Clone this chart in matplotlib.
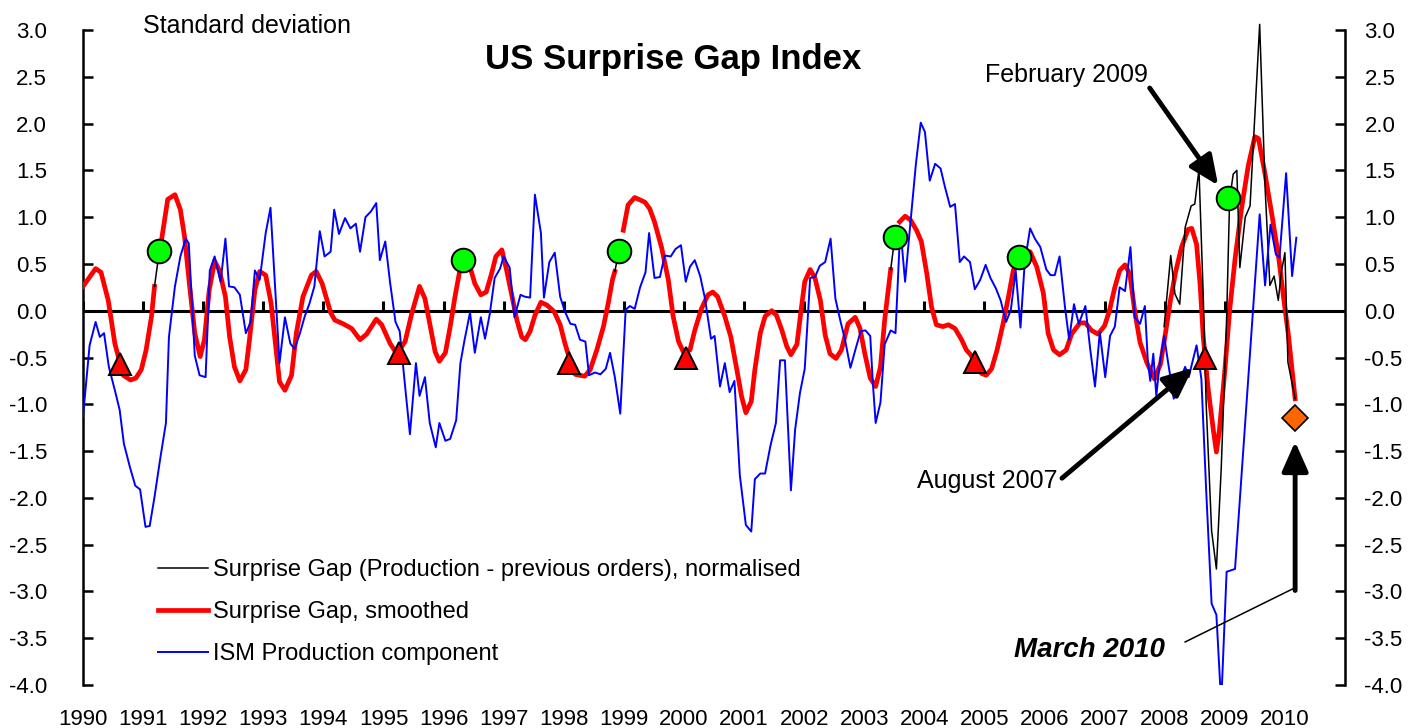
import numpy as np
import matplotlib
matplotlib.use('Agg')
import matplotlib.pyplot as plt
from matplotlib import font_manager
from matplotlib.ticker import FormatStrFormatter

# --- data (decimal years, standard deviations) ---
NAN = np.nan

ism_x = [1990.00, 1990.11, 1990.21, 1990.28, 1990.35, 1990.43, 1990.53, 1990.61, 1990.68, 1990.78,
         1990.87, 1990.95, 1991.04, 1991.11, 1991.19, 1991.29, 1991.38, 1991.43, 1991.53, 1991.62,
         1991.71, 1991.76, 1991.86, 1991.94, 1992.04, 1992.11, 1992.19, 1992.29, 1992.37, 1992.43,
         1992.52, 1992.61, 1992.71, 1992.79, 1992.86, 1992.94, 1993.04, 1993.12, 1993.27, 1993.36,
         1993.45, 1993.52, 1993.61, 1993.69, 1993.77, 1993.85, 1993.94, 1994.02, 1994.12, 1994.18,
         1994.26, 1994.36, 1994.45, 1994.54, 1994.61, 1994.70, 1994.79, 1994.88, 1994.94, 1995.03,
         1995.11, 1995.20, 1995.27, 1995.36, 1995.44, 1995.54, 1995.60, 1995.69, 1995.77, 1995.87,
         1995.93, 1996.03, 1996.11, 1996.21, 1996.28, 1996.35, 1996.44, 1996.52, 1996.62, 1996.69,
         1996.77, 1996.85, 1996.94, 1997.00, 1997.10, 1997.18, 1997.28, 1997.35, 1997.44, 1997.52,
         1997.62, 1997.67, 1997.76, 1997.85, 1997.94, 1998.02, 1998.11, 1998.19, 1998.27, 1998.36,
         1998.42, 1998.52, 1998.61, 1998.70, 1998.77, 1998.85, 1998.94, 1999.03, 1999.10, 1999.18,
         1999.27, 1999.36, 1999.42, 1999.51, 1999.60, 1999.68, 1999.78, 1999.86, 1999.95, 2000.03,
         2000.10, 2000.18, 2000.27, 2000.35, 2000.45, 2000.51, 2000.60, 2000.68, 2000.76, 2000.84,
         2000.93, 2001.03, 2001.12, 2001.18, 2001.27, 2001.35, 2001.44, 2001.53, 2001.60, 2001.68,
         2001.78, 2001.85, 2001.93, 2002.01, 2002.10, 2002.18, 2002.26, 2002.35, 2002.44, 2002.52,
         2002.60, 2002.68, 2002.77, 2002.86, 2002.94, 2003.02, 2003.10, 2003.14, 2003.19, 2003.27,
         2003.34, 2003.44, 2003.52, 2003.60, 2003.68, 2003.76, 2003.86, 2003.94, 2004.01, 2004.09,
         2004.18, 2004.27, 2004.34, 2004.43, 2004.51, 2004.59, 2004.66, 2004.76, 2004.84, 2004.93,
         2005.02, 2005.10, 2005.19, 2005.27, 2005.36, 2005.44, 2005.52, 2005.60, 2005.67, 2005.76,
         2005.84, 2005.93, 2006.03, 2006.10, 2006.17, 2006.25, 2006.34, 2006.41, 2006.49, 2006.57,
         2006.68, 2006.76, 2006.84, 2006.92, 2007.01, 2007.09, 2007.17, 2007.25, 2007.34, 2007.43,
         2007.50, 2007.59, 2007.67, 2007.72, 2007.76, 2007.81, 2007.86, 2007.91, 2007.99, 2008.06,
         2008.10, 2008.15, 2008.25, 2008.34, 2008.40, 2008.46, 2008.53, 2008.61, 2008.69, 2008.78,
         2008.86, 2008.94, 2009.03, 2009.17, 2009.58, 2009.67, 2009.76, 2009.85, 2009.91, 2010.02,
         2010.12, 2010.19]
ism_y = [-1.13, -0.37, -0.12, -0.28, -0.24, -0.60, -0.85, -1.06, -1.42, -1.67,
         -1.87, -1.91, -2.31, -2.30, -1.99, -1.56, -1.20, -0.28, 0.26, 0.58,
         0.77, 0.72, -0.48, -0.69, -0.71, 0.43, 0.58, 0.31, 0.77, 0.26,
         0.25, 0.17, -0.24, -0.12, 0.43, 0.33, 0.83, 1.10, -0.56, -0.07,
         -0.35, -0.41, -0.24, -0.06, 0.08, 0.26, 0.85, 0.58, 0.63, 1.08,
         0.82, 0.99, 0.88, 0.93, 0.63, 1.00, 1.06, 1.15, 0.54, 0.74,
         0.30, -0.12, -0.22, -0.81, -1.32, -0.56, -0.91, -0.71, -1.20, -1.46,
         -1.20, -1.39, -1.37, -1.17, -0.56, -0.31, -0.02, -0.45, -0.07, -0.30,
         -0.03, 0.35, 0.45, 0.58, 0.46, -0.07, 0.17, 0.15, 0.14, 1.24,
         0.83, 0.14, 0.52, 0.62, 0.15, -0.01, -0.14, -0.15, -0.31, -0.33,
         -0.69, -0.66, -0.68, -0.62, -0.45, -0.71, -1.10, 0.01, 0.05, 0.02,
         0.25, 0.41, 0.83, 0.35, 0.36, 0.59, 0.58, 0.66, 0.70, 0.31,
         0.47, 0.54, 0.37, 0.13, -0.30, -0.27, -0.81, -0.56, -0.87, -0.75,
         -1.76, -2.29, -2.36, -1.80, -1.74, -1.74, -1.44, -1.20, -0.53, -0.53,
         -1.92, -1.27, -0.88, -0.62, 0.35, 0.36, 0.48, 0.52, 0.77, 0.13,
         -0.10, -0.31, -0.61, -0.40, -0.22, -0.21, -0.27, -0.74, -1.20, -0.98,
         -0.36, -0.21, -0.24, 0.89, 0.31, 0.88, 1.57, 2.01, 1.91, 1.39,
         1.57, 1.52, 1.33, 1.11, 1.14, 0.52, 0.58, 0.52, 0.23, 0.33,
         0.49, 0.35, 0.24, 0.11, -0.12, 0.01, 0.43, -0.18, 0.51, 0.88,
         0.77, 0.68, 0.44, 0.38, 0.38, 0.58, 0.04, -0.31, 0.07, -0.14,
         0.05, -0.41, -0.81, -0.23, -0.71, -0.27, -0.17, 0.25, 0.21, 0.68,
         -0.07, -0.14, 0.05, -0.55, -0.75, -0.46, -0.91, -0.60, -0.27, -0.57,
         -0.73, -0.94, -0.75, -0.60, -0.71, -0.55, -0.37, -0.73, -1.92, -3.13,
         -3.25, -4.20, -2.79, -2.76, 1.03, 0.27, 0.92, 0.60, 0.57, 1.47,
         0.37, 0.78]

smooth_x = [1990.00, 1990.21, 1990.30, 1990.42, 1990.53, 1990.67, 1990.79, 1990.88, 1990.97, 1991.05,
            1991.14, 1991.19, 1991.23, 1991.31, 1991.41, 1991.53, 1991.62, 1991.69, 1991.77, 1991.86,
            1991.95, 1992.02, 1992.10, 1992.19, 1992.27, 1992.37, 1992.44, 1992.52, 1992.61, 1992.71,
            1992.77, 1992.86, 1992.94, 1993.04, 1993.13, 1993.19, 1993.27, 1993.36, 1993.47, 1993.55,
            1993.66, 1993.80, 1993.88, 1993.98, 1994.12, 1994.19, 1994.33, 1994.47, 1994.61, 1994.72,
            1994.88, 1994.97, 1995.11, 1995.22, 1995.36, 1995.47, 1995.60, 1995.69, 1995.78, 1995.86,
            1995.93, 1996.03, 1996.11, 1996.19, 1996.27, 1996.33, 1996.44, 1996.52, 1996.62, 1996.71,
            1996.80, 1996.87, 1996.97, 1997.05, 1997.14, 1997.22, 1997.30, 1997.36, 1997.44, 1997.52,
            1997.62, 1997.72, 1997.84, 1997.94, 1998.02, 1998.10, 1998.19, 1998.35, 1998.44, 1998.55,
            1998.66, 1998.74, 1998.81, 1998.85, 1998.92, 1998.99, 1999.07, 1999.18, 1999.35, 1999.43,
            1999.51, 1999.63, 1999.74, 1999.82, 1999.91, 1999.99, 2000.10, 2000.18, 2000.29, 2000.40,
            2000.48, 2000.56, 2000.68, 2000.78, 2000.88, 2000.96, 2001.03, 2001.12, 2001.18, 2001.27,
            2001.35, 2001.46, 2001.54, 2001.63, 2001.71, 2001.78, 2001.88, 2001.95, 2002.01, 2002.10,
            2002.18, 2002.27, 2002.35, 2002.43, 2002.53, 2002.62, 2002.73, 2002.85, 2002.93, 2003.01,
            2003.10, 2003.19, 2003.27, 2003.34, 2003.40, 2003.44, 2003.51, 2003.59, 2003.68, 2003.77,
            2003.87, 2003.95, 2004.04, 2004.12, 2004.20, 2004.31, 2004.40, 2004.51, 2004.62, 2004.70,
            2004.77, 2004.95, 2005.03, 2005.12, 2005.21, 2005.31, 2005.40, 2005.48, 2005.58, 2005.76,
            2005.87, 2005.98, 2006.06, 2006.15, 2006.25, 2006.36, 2006.45, 2006.59, 2006.68, 2006.78,
            2006.89, 2007.00, 2007.08, 2007.17, 2007.25, 2007.34, 2007.42, 2007.50, 2007.59, 2007.70,
            2007.83, 2007.93, 2008.01, 2008.09, 2008.18, 2008.28, 2008.39, 2008.45, 2008.53, 2008.59,
            2008.64, 2008.72, 2008.81, 2008.86, 2008.91, 2009.00, 2009.08, 2009.17, 2009.28, 2009.39,
            2009.50, 2009.56, 2009.67, 2009.79, 2009.90, 2009.97, 2010.06, 2010.17]
smooth_y = [0.26, 0.45, 0.41, 0.11, -0.35, -0.69, -0.74, -0.72, -0.63, -0.42,
            -0.06, 0.26, NAN, 0.77, 1.19, 1.24, 1.08, 0.79, 0.29, -0.24,
            -0.49, -0.31, 0.22, 0.53, 0.43, 0.15, -0.28, -0.60, -0.75, -0.63,
            -0.31, 0.22, 0.42, 0.38, 0.08, -0.28, -0.76, -0.85, -0.69, -0.24,
            0.15, 0.38, 0.42, 0.29, -0.02, -0.10, -0.14, -0.19, -0.31, -0.25,
            -0.09, -0.15, -0.35, -0.46, -0.33, -0.03, 0.26, 0.13, -0.17, -0.44,
            -0.54, -0.45, -0.17, 0.15, 0.43, 0.54, 0.47, 0.29, 0.17, 0.20,
            0.40, 0.58, 0.65, 0.43, 0.15, -0.10, -0.28, -0.31, -0.22, -0.05,
            0.09, 0.06, -0.01, -0.15, -0.35, -0.52, -0.68, -0.70, -0.63, -0.42,
            -0.17, 0.08, 0.33, 0.42, NAN, 0.86, 1.13, 1.21, 1.16, 1.09,
            0.95, 0.67, 0.33, -0.06, -0.33, -0.44, -0.42, -0.21, 0.02, 0.17,
            0.20, 0.15, -0.06, -0.28, -0.63, -0.92, -1.09, -0.97, -0.63, -0.24,
            -0.06, 0.00, -0.05, -0.21, -0.38, -0.47, -0.36, 0.01, 0.31, 0.44,
            0.35, 0.11, -0.26, -0.46, -0.51, -0.42, -0.14, -0.07, -0.19, -0.46,
            -0.72, -0.81, -0.60, -0.10, 0.22, 0.44, NAN, 0.95, 1.01, 0.97,
            0.86, 0.74, 0.40, 0.04, -0.15, -0.17, -0.15, -0.19, -0.31, -0.42,
            -0.47, -0.67, -0.69, -0.62, -0.42, -0.14, 0.15, 0.43, 0.57, 0.63,
            0.47, 0.19, -0.24, -0.42, -0.47, -0.42, -0.25, -0.13, -0.13, -0.21,
            -0.25, -0.16, 0.00, 0.25, 0.43, 0.49, 0.39, 0.00, -0.34, -0.55,
            -0.73, -0.57, -0.25, 0.09, 0.41, 0.68, 0.87, 0.88, 0.71, 0.27,
            -0.27, -0.82, -1.28, -1.51, -1.28, -0.64, 0.00, 0.55, 1.10, 1.55,
            1.86, 1.84, 1.46, 1.00, 0.55, 0.18, -0.27, -0.94]

gap_x = [2007.99, 2008.10, 2008.17, 2008.25, 2008.34, 2008.44, 2008.50, 2008.57, 2008.64, 2008.69,
         2008.78, 2008.86, 2008.94, 2009.03, 2009.08, 2009.14, 2009.20, 2009.25, 2009.34, 2009.42,
         2009.58, 2009.67, 2009.75, 2009.82, 2009.89, 2009.94, 2010.00, 2010.05, 2010.17]
gap_y = [-0.17, 0.59, 0.18, 0.07, 0.89, 1.12, 1.14, 1.51, 0.18, -1.00,
         -2.35, -2.76, -1.69, -0.09, 1.19, 1.46, 1.50, 0.46, 1.00, 1.12,
         3.06, 1.32, 0.27, 0.37, 0.11, 0.41, 0.62, -0.55, -0.94]

# turning-point signals
peak_x = [1991.27, 1996.33, 1998.92, 2003.51, 2005.58, 2009.06]
peak_y = [0.64, 0.54, 0.64, 0.79, 0.57, 1.20]
stub_x0 = [1991.19, 1998.85, 2003.44]   # thin black connectors red line -> circle
stub_y0 = [0.26, 0.42, 0.44]
stub_x1 = [1991.27, 1998.92, 2003.51]
stub_y1 = [0.64, 0.64, 0.79]
trough_x = [1990.62, 1995.25, 1998.09, 2000.03, 2004.84, 2008.67]
trough_y = [-0.57, -0.45, -0.56, -0.51, -0.55, -0.51]
latest_x = [2010.16]
latest_y = [-1.15]

years = list(range(1990, 2011))
year_labels = [str(y) for y in years]
yticks = [-4.0, -3.5, -3.0, -2.5, -2.0, -1.5, -1.0, -0.5, 0.0, 0.5, 1.0, 1.5, 2.0, 2.5, 3.0]

# --- fonts ---
names = {f.name for f in font_manager.fontManager.ttflist}
TICK_FONT = 'Liberation Sans Narrow' if 'Liberation Sans Narrow' in names else 'Liberation Sans'
TICK_SIZE = 18 if TICK_FONT == 'Liberation Sans Narrow' else 16
plt.rcParams['font.family'] = ['Liberation Sans', 'DejaVu Sans']
plt.rcParams['axes.unicode_minus'] = False

W, H = 1413, 728
fig = plt.figure(figsize=(W / 100, H / 100), dpi=100)
ax = fig.add_axes([83 / W, 1 - 685 / H, (1345 - 83) / W, (685 - 30) / H])
ax.set_xlim(1990, 2011)
ax.set_ylim(-4, 3)

# zero line with year ticks pointing up
ax.axhline(0, color='black', lw=2.2, zorder=1)
ax.plot(years, [0] * len(years), linestyle='none', marker=2, ms=7, mew=2.2,
        color='black', zorder=1)

ax.plot(smooth_x, smooth_y, color='#FF0000', lw=3.4, zorder=3,
        label='Surprise Gap, smoothed', solid_joinstyle='round')
ax.plot(gap_x, gap_y, color='black', lw=1.1, zorder=4, clip_on=False,
        label='Surprise Gap (Production - previous orders), normalised')
ax.plot(ism_x, ism_y, color='#0000FF', lw=1.4, zorder=5,
        label='ISM Production component')

for x0, y0, x1, y1 in zip(stub_x0, stub_y0, stub_x1, stub_y1):
    ax.plot([x0, x1], [y0, y1], color='black', lw=1.1, zorder=4)

ax.plot(peak_x, peak_y, 'o', ms=17, mfc='#00FF00', mec='black', mew=1.4, zorder=7)
ax.plot(trough_x, trough_y, '^', ms=16.5, mfc='#FF0000', mec='black', mew=1.4, zorder=7)
ax.plot(latest_x, latest_y, 'D', ms=13.5, mfc='#FF6600', mec='black', mew=1.2, zorder=7)

# axes styling
for side in ['top', 'bottom']:
    ax.spines[side].set_visible(False)
for side in ['left', 'right']:
    ax.spines[side].set_linewidth(1.8)
ax.set_xticks(years)
ax.set_xticklabels(year_labels, fontfamily=TICK_FONT, fontsize=TICK_SIZE)
ax.tick_params(axis='x', length=0, pad=17)

ax.set_yticks(yticks)
ax.yaxis.set_major_formatter(FormatStrFormatter('%.1f'))
ax.tick_params(axis='y', direction='in', length=7, width=1.8, pad=26, labelsize=TICK_SIZE)
for lab in ax.get_yticklabels():
    lab.set_fontfamily(TICK_FONT)

ax2 = ax.twinx()
ax2.set_ylim(-4, 3)
ax2.set_yticks(yticks)
ax2.yaxis.set_major_formatter(FormatStrFormatter('%.1f'))
ax2.tick_params(axis='y', direction='in', length=7, width=1.8, pad=14, labelsize=TICK_SIZE)
for lab in ax2.get_yticklabels():
    lab.set_fontfamily(TICK_FONT)
for side in ['top', 'bottom', 'left', 'right']:
    ax2.spines[side].set_visible(False)

# titles
fig.text(673 / W, 1 - 59 / H, 'US Surprise Gap Index', ha='center', va='center',
         fontsize=25, fontweight='bold')
fig.text(143 / W, 1 - 26 / H, 'Standard deviation', ha='left', va='center', fontsize=18)

# legend
handles, labels = ax.get_legend_handles_labels()
order = [1, 0, 2]
ax.legend([handles[i] for i in order], [labels[i] for i in order],
          loc='upper left', bbox_to_anchor=(158 / W, 1 - 559 / H), bbox_transform=fig.transFigure,
          frameon=False, fontsize=17, handlelength=2.1, handletextpad=0.22,
          labelspacing=0.85, borderpad=0, borderaxespad=0)

# annotations
arrow = dict(arrowstyle='-|>,head_length=0.9,head_width=0.4', lw=3.5, color='black',
             mutation_scale=20, shrinkA=0, shrinkB=0)
ax.text(2005.01, 2.52, 'February 2009', ha='left', va='center', fontsize=18)
ax.annotate('', xy=(2008.89, 1.34), xytext=(2007.75, 2.38), arrowprops=arrow, zorder=8)
ax.text(2006.21, -1.82, 'August 2007', ha='right', va='center', fontsize=18)
ax.annotate('', xy=(2008.47, -0.61), xytext=(2006.29, -1.79), arrowprops=arrow, zorder=8)
ax.text(2008.0, -3.63, 'March 2010', ha='right', va='center', fontsize=20,
        fontweight='bold', fontstyle='italic')
ax.plot([2008.34, 2010.17], [-3.54, -2.96], color='black', lw=1.1, zorder=8)
ax.annotate('', xy=(2010.17, -1.40), xytext=(2010.17, -2.99), arrowprops=arrow, zorder=8)

fig.savefig('out.png', dpi=100)
